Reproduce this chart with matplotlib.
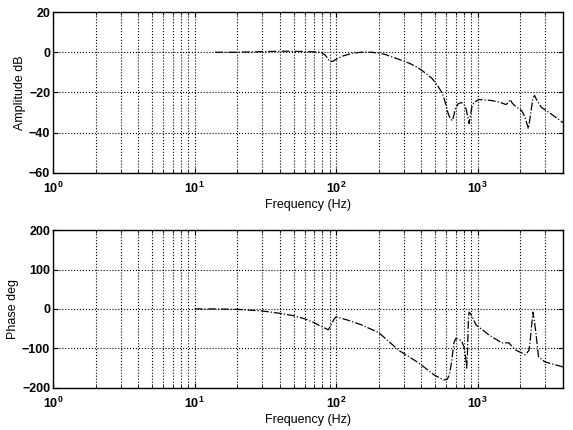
import matplotlib
matplotlib.use('Agg')
import matplotlib.pyplot as plt
import numpy as np

plt.rcParams['font.family'] = ['Liberation Sans', 'DejaVu Sans']
plt.rcParams['font.weight'] = 'bold'
plt.rcParams['font.size'] = 9

# Amplitude response (Hz, dB)
amp_freq = [14, 20, 30, 40, 50, 60, 70, 78, 84, 90, 95, 100, 110, 130, 150, 180,
            220, 277, 330, 384, 430, 475, 520, 563, 590, 615, 640, 660, 675, 695,
            730, 770, 800, 830, 855, 870, 885, 910, 940, 1020, 1250, 1450, 1580,
            1650, 1700, 1740, 1790, 1900, 2040, 2150, 2280, 2350, 2450, 2520, 2620,
            2820, 3200, 3820, 4000]
amp_db = [0, 0, 0.3, 0.5, 0.5, 0.3, 0.2, 0, -1.5, -4.5, -4.5, -3.5, -2, -0.5, 0, 0,
          -1, -3.5, -5.5, -8, -10.5, -13, -16.5, -20.5, -25, -30, -33, -34, -32, -28,
          -25.5, -25, -26, -28.5, -33, -35.5, -32, -27, -25, -23.5, -24, -25, -26,
          -25, -23.5, -25, -26, -27.5, -29, -32, -38, -32, -23, -21.5, -24,
          -27.5, -30, -34, -35]

# Phase response (Hz, deg)
ph_freq = [10, 14, 20, 30, 40, 50, 60, 70, 76, 85, 88, 92, 97, 100, 120, 150, 200,
           277, 384, 490, 575, 610, 630, 650, 665, 680, 700, 740, 770, 800, 820,
           835, 845, 860, 870, 890, 915, 970, 1100, 1200, 1480, 1660, 1750, 1850,
           2170, 2300, 2350, 2420, 2450, 2500, 2560, 2690, 2980, 3400, 4000]
ph_deg = [0, 0, -1, -5, -11, -17, -25, -35, -42, -50, -53, -40, -25, -20, -28, -40, -60,
          -105, -137, -167, -180, -178, -167, -140, -112, -85, -75, -77, -82, -96, -120,
          -150, -120, -20, -8, -12, -20, -40, -55, -66, -86, -86, -95, -104,
          -116, -105, -78, -30, -8, -25, -53, -122, -134, -140, -147]

fig = plt.figure(figsize=(5.73, 4.3), dpi=100)
ax1 = fig.add_axes([0.0925, 0.598, 0.89, 0.374])
ax2 = fig.add_axes([0.0925, 0.098, 0.89, 0.367])

ax1.semilogx(amp_freq, amp_db, 'k-.', linewidth=0.9)
ax1.set_ylim(-60, 20)
ax1.set_yticks([-60, -40, -20, 0, 20])
ax1.set_ylabel('Amplitude dB', labelpad=2)

ax2.semilogx(ph_freq, ph_deg, 'k-.', linewidth=0.9)
ax2.set_ylim(-200, 200)
ax2.set_yticks([-200, -100, 0, 100, 200])
ax2.set_ylabel('Phase deg', labelpad=2)

for ax in (ax1, ax2):
    ax.set_xlim(1, 4000)
    ax.set_xlabel('Frequency (Hz)', labelpad=2)
    ax.grid(True, which='major', linestyle=':', color='k', linewidth=0.8)
    ax.grid(True, which='minor', axis='x', linestyle=':', color='k', linewidth=0.8)
    ax.tick_params(which='both', direction='in', top=True, right=True)
    ax.tick_params(axis='y', pad=2)
    ax.tick_params(axis='x', pad=6)
    for s in ax.spines.values():
        s.set_linewidth(1.0)

plt.savefig('out.png', dpi=100)
